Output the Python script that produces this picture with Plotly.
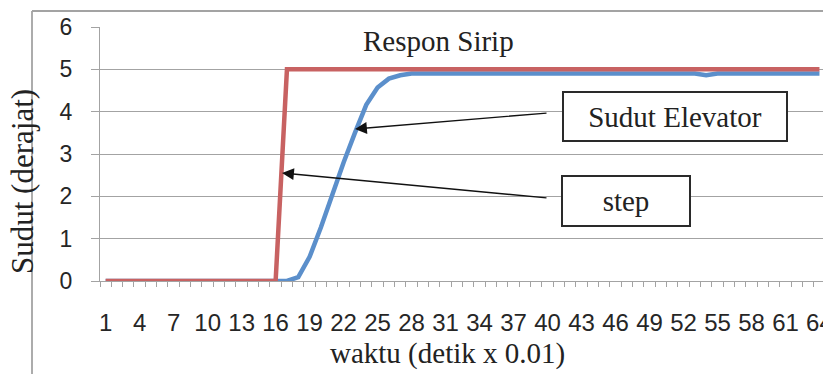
import plotly.graph_objects as go

# ---- data ----
waktu = list(range(1, 65))
step = [0]*16 + [5]*48
sudut_elevator = ([0]*17 +
                  [0.09, 0.57, 1.27, 2.05, 2.8, 3.5, 4.16, 4.57, 4.78, 4.86] +
                  [4.9]*26 + [4.86] + [4.9]*10)
tick_vals = list(range(1, 65, 3))
tick_text = [str(v) for v in tick_vals]

W, H = 823, 374
L, R, T, B = 100, 0, 27, 93
pw, ph = W - L - R, H - T - B

def px(x):
    return (x - L) / pw

def py(y):
    return (H - B - y) / ph

GRID = "#a3a3a3"
SANS = "Liberation Sans"
TXT = "Liberation Serif"

fig = go.Figure()
fig.add_trace(go.Scatter(x=waktu, y=sudut_elevator, mode="lines",
                         line=dict(color="#5b8fcb", width=4.5), showlegend=False))
fig.add_trace(go.Scatter(x=waktu, y=step, mode="lines",
                         line=dict(color="#c86262", width=4.5), showlegend=False))

fig.update_layout(
    width=W, height=H,
    margin=dict(l=L, r=R, t=T, b=B, autoexpand=False),
    paper_bgcolor="white", plot_bgcolor="white",
    showlegend=False,
    xaxis=dict(range=[0.5, 0.5 + pw / 11.33], tickmode="array", tickvals=tick_vals,
               ticktext=tick_text, ticks="", showgrid=False, zeroline=False,
               showline=True, linecolor=GRID, linewidth=1.3, tickangle=0,
               tickfont=dict(family=SANS, size=24, color="#262626"),
               ticklabelstandoff=20, ticklabeloverflow="allow", automargin=False,
               minor=dict(tickmode="linear", tick0=0.5, dtick=1, ticks="outside",
                          ticklen=5, tickcolor=GRID, tickwidth=1.3, showgrid=False)),
    yaxis=dict(range=[0, 6], dtick=1, showgrid=True, gridcolor=GRID, gridwidth=1.3,
               zeroline=False, showline=True, linecolor=GRID, linewidth=1.3,
               ticks="outside", ticklen=8, tickcolor=GRID, tickwidth=1.3,
               tickfont=dict(family=SANS, size=23, color="#262626"),
               ticklabelstandoff=14, automargin=False),
)

# outer chart border (top and left visible)
fig.add_shape(type="line", xref="paper", yref="paper", x0=px(32), x1=px(830),
              y0=py(11), y1=py(11), line=dict(color=GRID, width=1.8))
fig.add_shape(type="line", xref="paper", yref="paper", x0=px(32), x1=px(32),
              y0=py(11), y1=py(380), line=dict(color=GRID, width=1.8))

# texts
fig.add_annotation(xref="paper", yref="paper", x=px(438), y=py(41), text="Respon Sirip",
                   showarrow=False, font=dict(family=TXT, size=29, color="#222"),
                   xanchor="center", yanchor="middle")
fig.add_annotation(xref="paper", yref="paper", x=px(447), y=py(353),
                   text="waktu (detik x 0.01)", showarrow=False,
                   font=dict(family=TXT, size=29, color="#222"),
                   xanchor="center", yanchor="middle")
fig.add_annotation(xref="paper", yref="paper", x=px(22), y=py(182), text="Sudut (derajat)",
                   textangle=-90, showarrow=False,
                   font=dict(family=TXT, size=31, color="#222"),
                   xanchor="center", yanchor="middle")

# boxes
fig.add_annotation(xref="paper", yref="paper", x=px(675), y=py(116.5), text="Sudut Elevator",
                   showarrow=False, font=dict(family=TXT, size=29, color="#222"),
                   bgcolor="white", bordercolor="#2a2a2a", borderwidth=2, borderpad=0,
                   width=222, height=47, xanchor="center", yanchor="middle")
fig.add_annotation(xref="paper", yref="paper", x=px(626), y=py(201), text="step",
                   showarrow=False, font=dict(family=TXT, size=29, color="#222"),
                   bgcolor="white", bordercolor="#2a2a2a", borderwidth=2, borderpad=0,
                   width=126, height=48, xanchor="center", yanchor="middle")

# arrows
for (hx, hy, tx, ty) in [(355, 129, 548, 113), (282, 173, 548, 198)]:
    fig.add_annotation(xref="paper", yref="paper", x=px(hx), y=py(hy), text="",
                       showarrow=True, ax=tx - hx, ay=ty - hy, arrowhead=2,
                       arrowsize=1.7, arrowwidth=1.4, arrowcolor="#111", standoff=0)

fig.write_html("out.html")
